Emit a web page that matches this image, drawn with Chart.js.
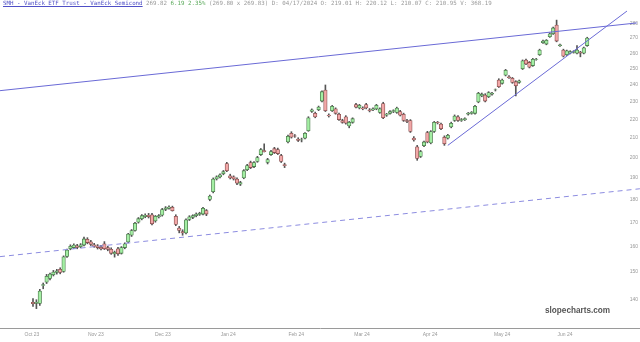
<!DOCTYPE html>
<html>
<head>
<meta charset="utf-8">
<script src="https://cdn.jsdelivr.net/npm/chart.js@4.4.1/dist/chart.umd.min.js"></script>
<style>
  html, body { margin: 0; padding: 0; background: #fff; }
  #wrap { position: relative; width: 640px; height: 342px; overflow: hidden; }
  #head { position: absolute; left: 3px; top: 0px; font: 5.8px "DejaVu Sans Mono", monospace; color: #999; white-space: nowrap; }
  #head .nm { color: #4f4fc6; text-decoration: underline; }
  #head .up { color: #5aa95a; }
  #mark { position: absolute; left: 545px; top: 306px; font: bold 8.2px "Liberation Sans", Arial, sans-serif; color: #555; }
</style>
</head>
<body>
<div id="wrap">
  <canvas id="myChart" width="640" height="342"></canvas>
  <div id="head"><span class="nm">SMH - VanEck ETF Trust - VanEck Semicond</span> 269.82 <span class="up">6.19 2.35%</span> (269.80 x 269.83) D: 04/17/2024 O: 219.01 H: 220.12 L: 210.07 C: 210.95 V: 368.19</div>
  <div id="mark">slopecharts.com</div>
</div>
<script>
// daily candles, Oct 2023 - Jun 2024
var opens = [139.0,138.6,138.6,145.0,146.2,147.6,149.0,149.8,151.0,150.2,
  156.0,159.0,159.5,160.2,159.8,160.5,162.8,161.8,160.6,160.2,
  159.6,161.0,159.5,158.8,157.0,159.0,157.2,159.5,161.8,164.5,
  166.5,170.0,171.5,172.4,173.0,173.2,170.5,172.3,173.0,175.5,
  176.0,176.5,172.5,167.5,166.0,165.5,171.2,172.0,172.8,173.3,
  173.5,175.0,180.0,183.5,189.5,190.5,192.0,197.0,191.0,190.5,
  189.5,187.0,190.0,194.0,197.5,195.5,198.0,201.5,203.5,197.5,
  201.5,204.5,204.0,201.0,196.5,208.0,212.5,211.2,209.5,209.0,
  210.0,214.0,224.5,223.5,225.5,230.5,237.0,222.5,225.0,226.0,
  223.0,219.5,221.5,216.5,218.5,228.5,226.5,226.5,228.5,225.5,
  225.5,226.0,224.0,229.0,222.5,223.5,224.5,224.0,224.5,223.0,
  219.5,219.5,210.0,205.5,200.5,206.0,213.0,207.5,213.5,218.5,
  217.5,210.5,210.0,216.0,219.5,221.5,219.5,220.0,223.0,223.5,
  223.5,230.0,233.5,234.0,233.0,234.5,237.0,243.0,241.0,246.0,
  245.0,244.0,242.0,241.5,250.0,255.5,254.0,252.0,256.0,259.0,
  267.0,266.0,271.0,273.0,279.0,265.0,262.0,259.0,260.0,260.5,
  260.0,260.5,260.0,265.0];
var highs = [140.3,139.9,143.6,145.9,149.1,149.6,150.6,151.0,151.6,156.2,
  158.9,160.6,161.0,160.8,161.1,163.8,163.5,162.4,161.2,160.7,
  160.4,161.9,160.0,159.4,158.1,159.6,159.9,161.4,165.3,166.9,
  169.9,172.0,173.3,173.6,173.8,173.8,172.9,173.3,176.0,176.8,
  177.1,177.0,173.2,168.2,166.8,171.4,172.8,173.2,174.0,174.3,
  176.5,175.5,182.0,190.0,191.0,192.0,193.6,197.6,191.8,191.0,
  190.0,188.4,194.0,196.6,198.2,198.0,200.6,204.6,207.0,199.6,
  203.6,205.2,204.8,201.6,197.2,211.6,213.4,211.9,210.2,210.0,
  213.0,221.6,226.0,224.2,227.6,236.5,240.0,223.2,228.0,226.6,
  223.6,220.2,222.2,219.0,221.0,229.2,228.6,227.2,229.2,226.2,
  226.6,228.6,226.6,229.8,223.5,225.0,225.5,227.0,225.2,223.6,
  220.2,220.0,210.8,206.2,203.6,208.5,213.6,214.0,219.0,219.0,
  218.1,211.2,212.0,218.6,222.6,222.2,220.6,221.0,224.0,224.5,
  228.0,235.6,235.2,234.8,236.0,235.6,237.6,243.8,243.6,249.6,
  245.8,244.6,242.6,243.0,255.6,256.2,254.6,256.6,256.6,262.6,
  268.6,269.0,273.6,277.6,282.5,266.0,262.6,262.0,261.6,261.6,
  265.0,261.2,264.0,270.6];
var lows = [137.6,136.8,137.9,143.8,145.7,147.0,148.5,149.2,149.3,149.9,
  155.6,158.6,159.1,159.0,159.4,160.2,161.0,160.3,159.6,158.9,
  158.6,158.7,158.2,156.8,155.7,156.4,156.9,159.0,161.4,164.0,
  166.2,169.6,171.0,171.9,171.8,168.8,170.0,171.8,172.6,175.0,
  175.6,174.8,168.5,165.5,164.5,165.1,170.7,171.5,172.3,172.9,
  173.1,172.8,179.4,183.0,189.0,190.0,191.5,193.0,189.5,189.0,
  186.8,186.4,189.6,193.5,194.5,195.0,197.6,201.0,202.8,196.8,
  201.0,202.0,201.5,197.5,195.0,207.5,210.0,210.4,208.2,208.0,
  209.6,213.6,224.0,221.0,225.0,230.0,224.5,221.4,224.5,223.0,
  219.6,218.0,217.5,215.5,218.0,226.5,226.0,225.5,226.0,224.3,
  225.0,225.5,223.5,220.5,221.8,223.0,223.9,223.5,222.0,219.0,
  218.3,213.0,208.4,198.6,200.0,205.5,207.5,207.0,213.0,217.6,
  214.5,206.2,209.5,215.5,219.0,219.0,219.0,219.5,222.5,223.0,
  223.0,229.5,233.0,230.0,232.5,234.0,236.4,238.5,240.5,245.5,
  244.0,241.0,233.5,241.0,249.5,252.5,250.5,251.5,255.4,258.5,
  266.4,265.5,270.5,272.5,267.5,264.4,257.5,258.5,259.5,260.0,
  259.5,257.6,259.5,264.5];
var closes = [138.5,139.1,143.0,145.3,148.4,149.2,150.0,150.4,149.8,155.8,
  158.5,160.0,160.5,159.6,160.6,163.0,161.5,160.8,160.0,159.5,
  159.0,159.0,158.8,157.2,157.6,157.0,159.5,161.0,165.0,166.5,
  169.5,171.5,172.8,173.0,172.4,169.3,172.5,172.8,175.5,176.2,
  176.6,175.0,169.0,166.5,165.5,171.0,172.3,172.8,173.5,173.8,
  176.0,173.5,181.5,189.5,190.5,191.5,193.0,193.5,190.0,189.5,
  187.5,187.8,193.5,196.0,195.0,197.5,200.0,204.0,203.0,199.0,
  203.0,202.5,202.0,198.0,196.0,211.0,210.5,211.0,208.8,209.1,
  212.5,221.0,225.5,221.5,227.0,236.0,225.0,222.0,227.5,223.5,
  220.0,218.5,218.0,218.5,220.5,227.0,228.0,226.0,226.5,225.0,
  226.0,228.0,226.0,221.0,223.0,224.5,225.0,226.5,222.5,219.5,
  219.0,213.5,209.0,199.5,203.0,208.0,208.0,213.5,218.5,218.3,
  215.0,207.0,211.5,218.0,222.0,219.5,220.0,220.5,223.5,224.0,
  227.5,235.0,234.5,230.5,235.5,235.0,237.1,239.0,243.0,249.0,
  244.5,241.5,239.5,242.5,255.0,253.0,251.0,256.0,256.2,262.0,
  268.0,268.5,273.0,277.0,268.0,265.5,258.0,261.5,261.0,261.0,
  262.0,260.0,263.5,270.0];

// month labels and where they sit (in candle index units)
var monthLabels = ["Oct 23","Nov 23","Dec 23","Jan 24","Feb 24","Mar 24","Apr 24","May 24","Jun 24"];
var monthPos = [-0.3, 18.5, 38.2, 57.4, 77.4, 96.8, 116.8, 138, 156.5];
var priceTicks = [140,150,160,170,180,190,200,210,220,230,240,250,260,270,280];

// trend lines drawn on the chart: [index, price] end points
var upperLine = [[-9.7, 236.6], [177.6, 280.5]];
var riseLine = [[122, 206.2], [174.7, 289.0]];
var lowerLine = [[-9.7, 155.9], [178.5, 184.9]];

var xMin = -9.706, xMax = 178.53;
var yMin = 130.3, yMax = 296.4;

var bodies = [], wicks = [], fills = [], edges = [];
for (var i = 0; i < opens.length; i++) {
    bodies.push({x: i, y: [opens[i], closes[i]]});
    wicks.push({x: i, y: [lows[i], highs[i]]});
    if (closes[i] >= opens[i]) {
        fills.push('#a3eea3');
        edges.push('#4d7a4d');
    } else {
        fills.push('#f2a7a7');
        edges.push('#8a5050');
    }
}

function toPts(arr) {
    return arr.map(function(p) { return {x: p[0], y: p[1]}; });
}

var ctx = document.getElementById('myChart').getContext('2d');
var chart = new Chart(ctx, {
    type: 'bar',
    data: {
        datasets: [
            {type: 'line', data: toPts(upperLine), borderColor: '#6a6ad6', borderWidth: 1, pointRadius: 0, clip: false, order: 0},
            {type: 'line', data: toPts(riseLine), borderColor: '#6a6ad6', borderWidth: 1, pointRadius: 0, clip: false, order: 0},
            {type: 'line', data: toPts(lowerLine), borderColor: '#8c8ce0', borderWidth: 1, borderDash: [5, 4], pointRadius: 0, clip: false, order: 0},
            {data: bodies, backgroundColor: fills, borderColor: edges, borderWidth: 0.8, barThickness: 3.5, grouped: false, borderSkipped: false, order: 1},
            {data: wicks, backgroundColor: '#555', barThickness: 1, grouped: false, order: 2}
        ]
    },
    options: {
        responsive: false,
        animation: false,
        layout: {padding: 0},
        plugins: {legend: {display: false}, tooltip: {enabled: false}},
        scales: {
            x: {
                type: 'linear', min: xMin, max: xMax, offset: false,
                grid: {display: false, drawTicks: false},
                border: {display: true, color: '#9a9a9a', width: 1},
                afterBuildTicks: function(axis) {
                    axis.ticks = monthPos.map(function(v) { return {value: v}; });
                },
                ticks: {
                    autoSkip: false, maxRotation: 0, padding: 4, color: '#999',
                    font: {size: 5},
                    callback: function(v, idx) { return monthLabels[idx]; }
                },
                afterFit: function(axis) { axis.height = 14; }
            },
            y: {
                type: 'logarithmic', position: 'right', min: yMin, max: yMax,
                grid: {display: false, drawTicks: false},
                border: {display: false},
                afterBuildTicks: function(axis) {
                    axis.ticks = priceTicks.map(function(v) { return {value: v}; });
                },
                ticks: {
                    mirror: true, padding: -2, color: '#999',
                    font: {size: 5},
                    callback: function(v) { return String(v); }
                },
                afterFit: function(axis) { axis.width = 0; }
            }
        }
    }
});
</script>
</body>
</html>
